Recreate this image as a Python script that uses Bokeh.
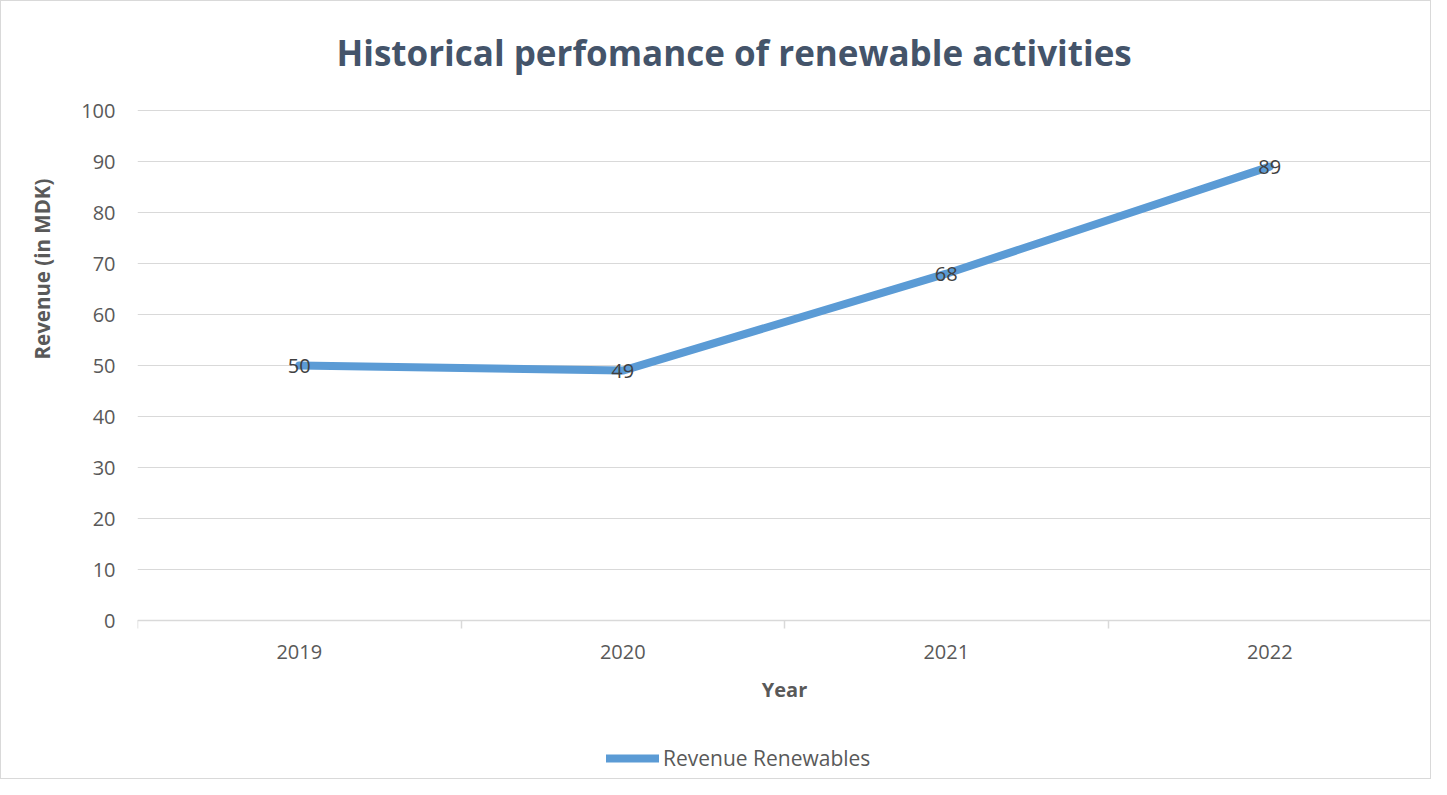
from bokeh.plotting import figure
from bokeh.models import (Range1d, FixedTicker, Title, Legend, LegendItem,
                          ColumnDataSource, Label)
from bokeh.embed import file_html
from bokeh.resources import INLINE

# ---- data ----
years = ["2019", "2020", "2021", "2022"]
revenue = [50, 49, 68, 89]
y_ticks = [0, 10, 20, 30, 40, 50, 60, 70, 80, 90, 100]
title_text = "Historical perfomance of renewable activities"
y_title = "Revenue (in MDK)"
x_title = "Year"
series_name = "Revenue Renewables"

FONT = "Open Sans"
TXT = "#595959"
GRID = "#D9D9D9"
LINE = "#5B9BD5"

# ---- layout (pixels) ----
W, H = 1431, 779
PX = 5.1            # pixels per revenue unit
ZERO_PX = 619       # canvas y of value 0
FRAME_TOP, FRAME_BOTTOM = 1, 778
Y_MAX = 100 + (ZERO_PX - 100 * PX - FRAME_TOP) / PX
Y_MIN = -(FRAME_BOTTOM - ZERO_PX) / PX
TITLE_Y = 100 + (ZERO_PX - 100 * PX - 51) / PX

xs = [i + 0.5 for i in range(len(years))]
src = ColumnDataSource(dict(x=xs, y=revenue, lbl=[str(v) for v in revenue]))

p = figure(width=W, height=H, output_backend="svg", toolbar_location=None,
           x_range=Range1d(0, len(years)), y_range=Range1d(Y_MIN, Y_MAX),
           min_border_left=136, min_border_right=1, min_border_top=FRAME_TOP,
           min_border_bottom=H - FRAME_BOTTOM)
p.outline_line_color = None
p.background_fill_color = "white"
p.border_fill_color = "white"
p.styles = {"border": "1px solid #D9D9D9", "box-sizing": "border-box"}
p.title.text = ""
p.title.text_font_size = "0px"
p.title.standoff = 0

# chart title, inside the frame above the plotting area
p.add_layout(Label(x=0, y=TITLE_Y, x_offset=199, text=title_text,
                   text_font=FONT, text_font_size="35px", text_font_style="bold",
                   text_color="#44546A", text_align="left", text_baseline="middle"))

# grid
p.xgrid.grid_line_color = None
p.ygrid.grid_line_color = GRID
p.ygrid.grid_line_width = 1

# y axis
p.yaxis.ticker = FixedTicker(ticks=y_ticks)
p.yaxis.axis_line_color = None
p.yaxis.major_tick_line_color = None
p.yaxis.minor_tick_line_color = None
p.yaxis.major_label_text_font = FONT
p.yaxis.major_label_text_font_size = "20px"
p.yaxis.major_label_text_color = TXT
p.yaxis.major_label_standoff = 16

# x axis, pinned at y = 0
p.xaxis.fixed_location = 0
p.xaxis.ticker = FixedTicker(ticks=xs, minor_ticks=list(range(len(years) + 1)))
p.xaxis.major_label_overrides = {x: y for x, y in zip(xs, years)}
p.xaxis.axis_line_color = GRID
p.xaxis.axis_line_width = 1.5
p.xaxis.major_tick_line_color = None
p.xaxis.major_tick_out = 0
p.xaxis.major_tick_in = 0
p.xaxis.minor_tick_line_color = GRID
p.xaxis.minor_tick_line_width = 1.5
p.xaxis.minor_tick_out = 8
p.xaxis.minor_tick_in = 0
p.xaxis.major_label_text_font = FONT
p.xaxis.major_label_text_font_size = "20px"
p.xaxis.major_label_text_color = TXT
p.xaxis.major_label_standoff = 16
p.xaxis.axis_label = x_title
p.xaxis.axis_label_text_font = FONT
p.xaxis.axis_label_text_font_size = "20px"
p.xaxis.axis_label_text_font_style = "bold"
p.xaxis.axis_label_text_color = TXT
p.xaxis.axis_label_standoff = 14

# y title as side title
yt = Title(text=y_title, align="left", offset=420, text_font=FONT,
           text_font_size="20.5px", text_font_style="bold", text_color=TXT,
           standoff=46)
p.add_layout(yt, "left")

# line
r = p.line("x", "y", source=src, line_color=LINE, line_width=8, line_cap="round",
           line_join="round")
p.text("x", "y", text="lbl", source=src, text_align="center", text_baseline="middle",
       text_font_size="20px", text_color="#404040", text_font={"value": FONT})

legend = Legend(items=[LegendItem(label=series_name, renderers=[r])],
                orientation="horizontal", location=(469, 7),
                label_text_font=FONT, label_text_font_size="21px",
                label_text_color=TXT, glyph_width=53, glyph_height=20,
                label_standoff=4, border_line_color=None, margin=0, padding=0,
                background_fill_alpha=0)
p.add_layout(legend)

open("out.html", "w").write(file_html(p, INLINE))
